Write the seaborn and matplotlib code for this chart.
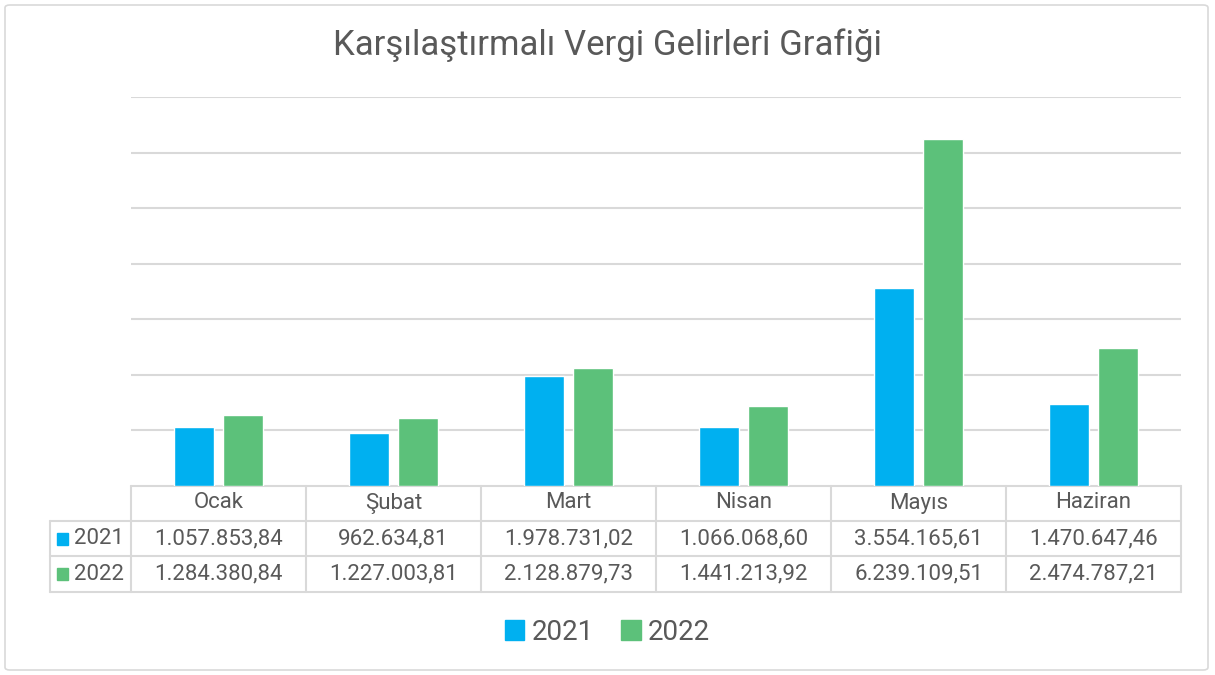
import pandas as pd
import matplotlib.pyplot as plt
import seaborn as sns
from matplotlib.patches import FancyBboxPatch, Rectangle
from matplotlib.lines import Line2D
from matplotlib.transforms import blended_transform_factory

# Veriler (tablodan okunan değerler)
months = ["Ocak", "Şubat", "Mart", "Nisan", "Mayıs", "Haziran"]
years = ["2021", "2022"]
values_2021 = [1057853.84, 962634.81, 1978731.02, 1066068.60, 3554165.61, 1470647.46]
values_2022 = [1284380.84, 1227003.81, 2128879.73, 1441213.92, 6239109.51, 2474787.21]

BLUE = "#00B0F0"
GREEN = "#5CC17A"
TEXT = "#595959"
GRID = "#D9D9D9"


def tr_format(v):
    # 1,057,853.84 -> 1.057.853,84
    s = f"{v:,.2f}"
    return s.replace(",", "X").replace(".", ",").replace("X", ".")


df = pd.DataFrame({
    "Ay": months * 2,
    "Yıl": [years[0]] * 6 + [years[1]] * 6,
    "Gelir": values_2021 + values_2022,
})

sns.set_theme(style="white")
plt.rcParams["font.family"] = ["Roboto", "DejaVu Sans"]

fig = plt.figure(figsize=(12.15, 6.75), dpi=100)
W, H = 1215, 675

# dış çerçeve
fig.add_artist(FancyBboxPatch((5 / W, 5 / H), 1203 / W, 665 / H,
                              boxstyle="round,pad=0,rounding_size=0.004",
                              transform=fig.transFigure, fill=False,
                              edgecolor=GRID, linewidth=1.2))

ax = fig.add_axes([131 / W, 1 - 486 / H, 1050 / W, 389 / H])

sns.barplot(data=df, x="Ay", y="Gelir", hue="Yıl", palette=[BLUE, GREEN],
            width=0.566, gap=0.19, saturation=1, legend=False, ax=ax, zorder=3)

ax.set_xlim(-0.5, 5.5)
ax.set_ylim(0, 7000000)
ax.set_yticks(range(1000000, 8000000, 1000000))
ax.yaxis.grid(True, color=GRID, linewidth=1.5, zorder=0)
ax.set_yticklabels([])
ax.set_xticklabels([])
ax.tick_params(length=0)
ax.set_xlabel("")
ax.set_ylabel("")
for sp in ax.spines.values():
    sp.set_visible(False)

fig.text(0.5, 1 - 45 / H, "Karşılaştırmalı Vergi Gelirleri Grafiği",
         ha="center", va="center", fontsize=25, color=TEXT)

# --- veri tablosu ---
tr = blended_transform_factory(ax.transData, ax.transAxes)


def ypos(px):
    return (486 - px) / 389


left_x = -0.5 + (50 - 131) / 175
line_kw = dict(color=GRID, linewidth=1.5, transform=tr, clip_on=False)

ax.add_line(Line2D([-0.5, 5.5], [ypos(486)] * 2, **line_kw))
for py in (521, 556, 592):
    ax.add_line(Line2D([left_x, 5.5], [ypos(py)] * 2, **line_kw))
for i in range(7):
    ax.add_line(Line2D([i - 0.5] * 2, [ypos(486), ypos(592)], **line_kw))
ax.add_line(Line2D([left_x] * 2, [ypos(521), ypos(592)], **line_kw))

FS = 16
for i, m in enumerate(months):
    ax.text(i, ypos(503), m, transform=tr, ha="center", va="center",
            fontsize=FS, color=TEXT, clip_on=False)
    ax.text(i, ypos(539), tr_format(values_2021[i]), transform=tr,
            ha="center", va="center", fontsize=FS, color=TEXT, clip_on=False)
    ax.text(i, ypos(574), tr_format(values_2022[i]), transform=tr,
            ha="center", va="center", fontsize=FS, color=TEXT, clip_on=False)

for yr, col, py in ((years[0], BLUE, 539), (years[1], GREEN, 574)):
    ax.add_patch(Rectangle((-0.5 + (57 - 131) / 175, ypos(py + 6)), 11 / 175, 12 / 389,
                           transform=tr, color=col, clip_on=False))
    ax.text(-0.5 + (74 - 131) / 175, ypos(py), yr, transform=tr, ha="left",
            va="center", fontsize=FS, color=TEXT, clip_on=False)

# --- lejant ---
handles = [Rectangle((0, 0), 1, 1, color=BLUE), Rectangle((0, 0), 1, 1, color=GREEN)]
fig.legend(handles, years, loc="center", bbox_to_anchor=(0.5, 1 - 632 / H), ncol=2,
           frameon=False, fontsize=20, labelcolor=TEXT, handlelength=0.7,
           handleheight=0.7, handletextpad=0.25, columnspacing=1.0)

fig.savefig("out.png", dpi=100)
